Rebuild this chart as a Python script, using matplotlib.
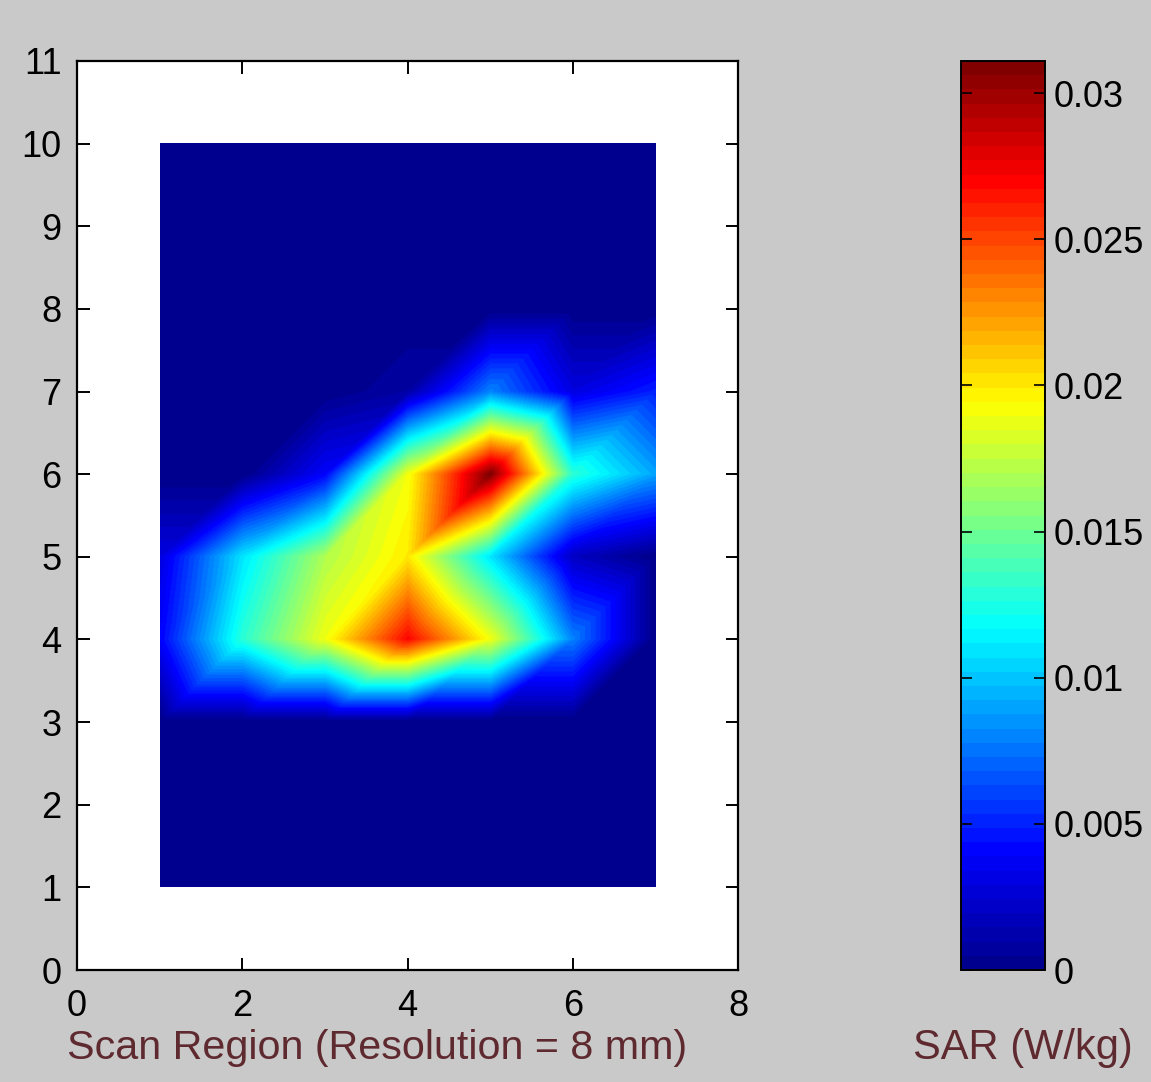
import numpy as np
import matplotlib.pyplot as plt
import matplotlib.tri as mtri
from matplotlib.colors import LinearSegmentedColormap

# scan grid (8 mm steps), columns x = 1..7, rows y = 1..10
x_pts = [1, 2, 3, 4, 5, 6, 7]
y_pts = [1, 2, 3, 4, 5, 6, 7, 8, 9, 10]

# SAR values (W/kg), one row per y, bottom row first
sar_y1 = [0.0, 0.0, 0.0, 0.0, 0.0, 0.0, 0.0]
sar_y2 = [0.0, 0.0, 0.0, 0.0, 0.0, 0.0, 0.0]
sar_y3 = [0.0, 0.0, 0.0, 0.0, 0.0, 0.0, 0.0]
sar_y4 = [0.004, 0.013, 0.019, 0.027, 0.019, 0.008, 0.0]
sar_y5 = [0.003, 0.011, 0.017, 0.020, 0.011, 0.002, 0.0]
sar_y6 = [0.0, 0.0, 0.004, 0.019, 0.031, 0.013, 0.009]
sar_y7 = [0.0, 0.0, 0.0, 0.001, 0.008, 0.003, 0.005]
sar_y8 = [0.0, 0.0, 0.0, 0.0, 0.0, 0.0, 0.0]
sar_y9 = [0.0, 0.0, 0.0, 0.0, 0.0, 0.0, 0.0]
sar_y10 = [0.0, 0.0, 0.0, 0.0, 0.0, 0.0, 0.0]

cbar_ticks = [0, 0.005, 0.01, 0.015, 0.02, 0.025, 0.03]
cbar_labels = ['0', '0.005', '0.01', '0.015', '0.02', '0.025', '0.03']
sar_max = 0.0311

plt.rcParams['font.family'] = ['Liberation Sans', 'DejaVu Sans']

bg = '#c9c9c9'
label_col = '#5e2a30'

# MATLAB style jet, 64 entries
jet_m = LinearSegmentedColormap('jet_m', {
    'red':   [(0, 0, 0), (0.375, 0, 0), (0.625, 1, 1), (0.875, 1, 1), (1, 0.5, 0.5)],
    'green': [(0, 0, 0), (0.125, 0, 0), (0.375, 1, 1), (0.625, 1, 1), (0.875, 0, 0), (1, 0, 0)],
    'blue':  [(0, 0.5625, 0.5625), (0.125, 1, 1), (0.375, 1, 1), (0.625, 0, 0), (1, 0, 0)],
}, N=64)

Z = np.array([sar_y1, sar_y2, sar_y3, sar_y4, sar_y5,
              sar_y6, sar_y7, sar_y8, sar_y9, sar_y10])
X, Y = np.meshgrid(x_pts, y_pts)

# split each cell into two triangles along the lower-left / upper-right diagonal
nx, ny = len(x_pts), len(y_pts)
tris = []
for j in range(ny - 1):
    for i in range(nx - 1):
        a = j * nx + i
        b = a + 1
        c = a + nx + 1
        d = a + nx
        tris.append([a, b, c])
        tris.append([a, c, d])
tri = mtri.Triangulation(X.ravel(), Y.ravel(), tris)
interp = mtri.LinearTriInterpolator(tri, Z.ravel())

xf = np.linspace(x_pts[0], x_pts[-1], 601)
yf = np.linspace(y_pts[0], y_pts[-1], 901)
XF, YF = np.meshgrid(xf, yf)
ZF = interp(XF, YF)

fig = plt.figure(figsize=(11.51, 10.82), dpi=100, facecolor=bg)
ax = fig.add_axes([77 / 1151, 1 - 970 / 1082, 661 / 1151, 909 / 1082])
im = ax.imshow(ZF, origin='lower', extent=[x_pts[0], x_pts[-1], y_pts[0], y_pts[-1]],
               cmap=jet_m, vmin=0, vmax=sar_max, aspect='auto', interpolation='bilinear')
ax.set_xlim(0, 8)
ax.set_ylim(0, 11)
ax.set_xticks([0, 2, 4, 6, 8])
ax.set_yticks(range(0, 12))
ax.tick_params(direction='in', length=9, width=1.4, top=True, right=True,
               labelsize=26, colors='black')
ax.tick_params(axis='x', pad=14)
ax.tick_params(axis='y', pad=11)
for s in ax.spines.values():
    s.set_linewidth(1.6)

cax = fig.add_axes([961 / 1151, 1 - 970 / 1082, 84 / 1151, 909 / 1082])
cb = fig.colorbar(im, cax=cax, ticks=cbar_ticks)
cb.set_ticklabels(cbar_labels)
cb.outline.set_linewidth(1.4)
cax.tick_params(direction='in', length=8, width=1.2, left=True, right=True,
                labelsize=26, pad=6)

fig.text(67 / 1151, 1 - 1048 / 1082, 'Scan Region (Resolution = 8 mm)',
         ha='left', va='center', fontsize=29.7, color=label_col)
fig.text(1133 / 1151, 1 - 1048 / 1082, 'SAR (W/kg)',
         ha='right', va='center', fontsize=30, color=label_col)

fig.savefig('out.png', dpi=100, facecolor=bg)
